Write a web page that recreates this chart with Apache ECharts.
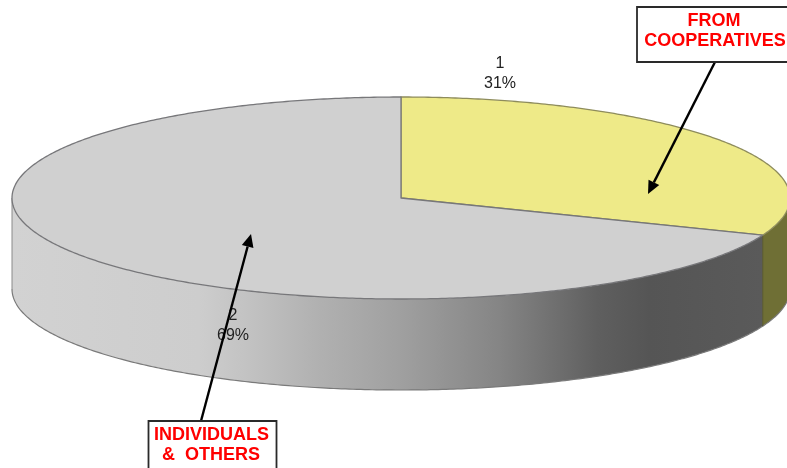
<!DOCTYPE html>
<html><head><meta charset="utf-8">
<style>html,body{margin:0;padding:0;background:#fff}#c{width:787px;height:468px}</style>
<script src="https://cdn.jsdelivr.net/npm/echarts@6/dist/echarts.min.js"></script>
</head><body><div id="c"></div>
<script>
var sliceNames = ['1', '2'];
var sliceValues = [31, 69];
var calloutTop = ['FROM', 'COOPERATIVES'];
var calloutBottom = ['INDIVIDUALS', '&  OTHERS'];

var CX = 401, CY = 198, RX = 389, RY = 101, DEPTH = 91;
var total = sliceValues.reduce(function (a, b) { return a + b; }, 0);
var topFill = ['#eeea88', '#d0d0d0'];
var topEdge = ['#8e8c5c', '#77777a'];
var labelPos = [[500, 74], [233, 326]];

function pt(t, dy) {
  return [CX + RX * Math.sin(t), CY - RY * Math.cos(t) + (dy || 0)];
}
function arc(a, b, dy) {
  var n = Math.max(2, Math.ceil(Math.abs(b - a) / 0.01)), p = [];
  for (var i = 0; i <= n; i++) p.push(pt(a + (b - a) * i / n, dy));
  return p;
}
var grad = function (stops) {
  return new echarts.graphic.LinearGradient(0, 0, 1, 0, stops.map(function (s) { return { offset: s[0], color: s[1] }; }));
};
var sideFill = [
  '#6f6f35',
  grad([[0, '#d2d2d2'], [0.25, '#cdcdcd'], [0.316, '#c2c2c2'], [0.4, '#b2b2b2'], [0.516, '#a0a0a0'], [0.649, '#858585'], [0.78, '#5f5f5f'], [0.85, '#555555'], [1, '#5a5a5a']])
];

function renderSlice(params, api) {
  var i = params.dataIndex, before = 0;
  for (var k = 0; k < i; k++) before += sliceValues[k];
  var a = before / total * 2 * Math.PI;
  var b = (before + api.value(1)) / total * 2 * Math.PI;
  var children = [];
  var sa = Math.max(a, Math.PI / 2), sb = Math.min(b, 3 * Math.PI / 2);
  if (sb > sa) {
    var upper = arc(sa, sb, 0), lower = arc(sb, sa, DEPTH);
    children.push({
      type: 'polygon', z2: 1,
      shape: { points: upper.concat(lower) },
      style: { fill: sideFill[i], stroke: null }
    });
    children.push({
      type: 'polyline', z2: 2,
      shape: { points: arc(sa, sb, DEPTH) },
      style: { fill: null, stroke: '#7a7a7a', lineWidth: 1.2 }
    });
    if (i === 1) {
      children.push({
        type: 'polyline', z2: 2,
        shape: { points: [pt(sa, 0), pt(sa, DEPTH)] },
        style: { fill: null, stroke: '#55552f', lineWidth: 1 }
      });
      children.push({
        type: 'polyline', z2: 2,
        shape: { points: [pt(sb, 0), pt(sb, DEPTH)] },
        style: { fill: null, stroke: '#8a8a8a', lineWidth: 1 }
      });
    }
  }
  children.push({
    type: 'polygon', z2: 5,
    shape: { points: [[CX, CY]].concat(arc(a, b, 0)) },
    style: { fill: topFill[i], stroke: topEdge[i], lineWidth: 1.3, lineJoin: 'round' }
  });
  children.push({
    type: 'text', z2: 20,
    style: {
      x: labelPos[i][0], y: labelPos[i][1],
      text: sliceNames[i] + '\n' + Math.round(api.value(1) / total * 100) + '%',
      fill: '#222222', align: 'center', verticalAlign: 'middle',
      font: '16px "Liberation Sans", Arial, sans-serif', lineHeight: 20
    }
  });
  return { type: 'group', children: children };
}

function box(x, y, w, h, cx, lines, baseY) {
  var out = [{
    type: 'rect', z: 30,
    shape: { x: x, y: y, width: w, height: h },
    style: { fill: '#fff', stroke: '#2a2a2a', lineWidth: 1.8 }
  }];
  lines.forEach(function (s, i) {
    out.push({
      type: 'text', z: 31,
      style: {
        x: cx[i], y: baseY + i * 20, text: s, fill: '#ff0000', align: 'center', verticalAlign: 'middle',
        font: 'bold 18px "Liberation Sans", Arial, sans-serif'
      }
    });
  });
  return out;
}
function arrow(x1, y1, x2, y2) {
  var ang = Math.atan2(y2 - y1, x2 - x1), L = 13, W = 6;
  var bx = x2 - L * Math.cos(ang), by = y2 - L * Math.sin(ang);
  var nx = -Math.sin(ang), ny = Math.cos(ang);
  return [{
    type: 'line', z: 25,
    shape: { x1: x1, y1: y1, x2: bx, y2: by },
    style: { stroke: '#000', lineWidth: 2.4 }
  }, {
    type: 'polygon', z: 25,
    shape: { points: [[x2, y2], [bx + nx * W, by + ny * W], [bx - nx * W, by - ny * W]] },
    style: { fill: '#000' }
  }];
}

var chart = echarts.init(document.getElementById('c'), null, { renderer: 'canvas' });
chart.setOption({
  animation: false,
  backgroundColor: '#fff',
  series: [{
    type: 'custom',
    coordinateSystem: 'none',
    silent: true,
    renderItem: renderSlice,
    data: sliceValues.map(function (v, i) { return [i, v]; })
  }],
  graphic: arrow(715, 62, 648, 194)
    .concat(arrow(201, 421, 251, 234))
    .concat(box(637, 7, 160, 55, [714, 715], calloutTop, 21))
    .concat(box(148.5, 421, 128, 60, [211.5, 211], calloutBottom, 435))
});
</script></body></html>
